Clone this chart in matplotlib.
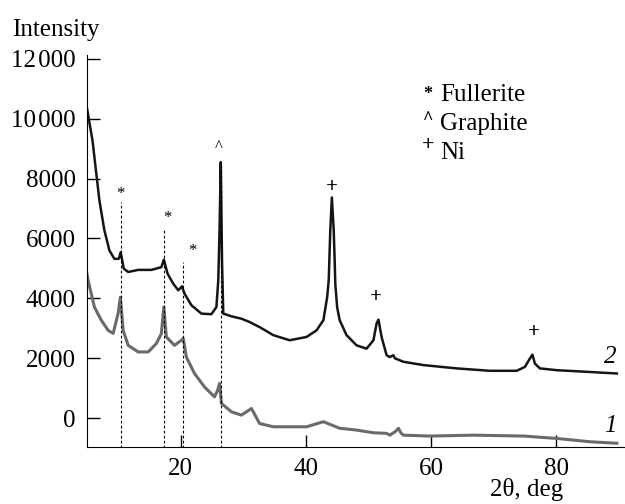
import matplotlib.pyplot as plt


# Ausgabe
OUT_FILE = "out.png"
DPI = 100

# Kurve 2 (schwarz): 2theta / Intensität
x2 = [5.0, 5.9, 7.0, 7.8, 8.6, 9.4, 10.1, 10.4, 10.9, 11.6, 13.2, 15.3, 16.9, 17.3,
      17.9, 18.8, 19.6, 20.2, 20.6, 21.7, 23.3, 24.9, 25.7, 26.0, 26.2, 26.4, 26.6,
      26.8, 28.1, 29.7, 31.0, 32.6, 34.8, 37.4, 40.1, 41.7, 42.8, 43.4, 43.65, 43.75,
      43.9, 44.15, 44.45, 44.6, 44.7, 45.0, 45.4, 46.5, 48.1, 49.7, 50.8, 51.3, 51.6,
      52.1, 52.9, 53.4, 54.0, 54.2, 55.6, 58.8, 64.1, 69.4, 73.7, 75.0, 75.8, 76.2,
      76.6, 77.4, 80.1, 85.4, 89.7]
y2 = [10370, 9270, 7270, 6270, 5600, 5320, 5320, 5540, 4990, 4880, 4950, 4950, 5040, 5290,
      4820, 4490, 4270, 4400, 4160, 3770, 3490, 3470, 3710, 4600, 6270, 8550, 5200,
      3490, 3400, 3320, 3210, 3040, 2770, 2600, 2710, 2930, 3270, 4040, 4600, 5270,
      6270, 7370, 6270, 5270, 4490, 3700, 3270, 2770, 2430, 2320, 2600, 3160, 3290,
      2710, 2100, 2040, 2100, 2000, 1880, 1770, 1660, 1580, 1580, 1710, 1990, 2120,
      1820, 1660, 1600, 1540, 1490]

# Kurve 1 (grau)
x1 = [5.0, 5.2, 6.2, 7.3, 8.4, 9.2, 10.0, 10.35, 10.8, 11.6, 13.2, 14.8, 16.1, 16.9,
      17.3, 17.7, 19.0, 20.1, 20.4, 20.9, 22.2, 23.8, 25.4, 25.9, 26.2, 26.5, 28.1,
      29.7, 31.3, 32.6, 34.8, 37.4, 40.1, 42.8, 45.4, 48.1, 50.8, 52.9, 53.4, 54.3,
      54.8, 55.2, 55.6, 59.8, 66.8, 74.8, 80.1, 85.4, 89.7]
y1 = [4830, 4600, 3710, 3270, 2930, 2830, 3500, 4040, 2930, 2430, 2210, 2210, 2490, 2820,
      3710, 2710, 2430, 2600, 2660, 2040, 1490, 1040, 710, 930, 1160, 490, 210,
      100, 320, -180, -290, -290, -290, -120, -340, -400, -490, -510, -570, -450,
      -340, -500, -570, -600, -570, -600, -680, -790, -840]

# Gestrichelte Linien: Position, Höhe
dash_x = [10.4, 17.3, 20.3, 26.4]
dash_top = [7230, 6270, 5200, 8530]

# Reflex-Markierungen
mark_sym = ["*", "*", "*", "^", "+", "+", "+"]
mark_x = [10.4, 17.8, 21.8, 26.1, 44.2, 51.2, 76.5]
mark_y = [7470, 6670, 5570, 9050, 7730, 4060, 2860]

# Legende
legend_sym = ["*", "^", "+"]
legend_txt = ["Fullerite", "Graphite", "Ni"]

y_ticks = [0, 2000, 4000, 6000, 8000, 10000, 12000]
y_ticklabels = ["0", "2000", "4000", "6000", "8000", "10\u200a000", "12\u200a000"]
x_ticks = [20, 40, 60, 80]

# Symbol-Versatz über der Grundlinie (Glyphen sitzen unterschiedlich hoch)
SYM_OFFSET = {"*": 70, "^": 180, "+": 280}
SYM_SIZE = {"*": 12, "^": 12, "+": 15}


def main():
    plt.rcParams["font.family"] = ["Liberation Serif", "DejaVu Serif"]
    plt.rcParams["font.size"] = 18

    fig = plt.figure(figsize=(6.25, 5.04), dpi=DPI)
    ax = fig.add_axes([0.139, 0.113, 0.861, 0.778])

    # Kurven
    ax.plot(x1, y1, color="#6a6a6a", lw=2.2, solid_joinstyle="round")
    ax.plot(x2, y2, color="#151515", lw=1.8, solid_joinstyle="round")

    # Gestrichelte Linien
    for xv, top in zip(dash_x, dash_top):
        ax.plot([xv, xv], [-1000, top], color="black", lw=0.8, ls=(0, (2.5, 2)))

    # Markierungen
    for s, xv, yv in zip(mark_sym, mark_x, mark_y):
        ax.text(xv, yv, s, ha="center", va="center", fontsize=SYM_SIZE[s],
                fontweight="bold" if s == "+" else "normal")

    # Legende (Text)
    for i, (s, t) in enumerate(zip(legend_sym, legend_txt)):
        yv = 10600 - i * 970
        ax.text(59.5, yv + SYM_OFFSET[s], s, ha="center", va="baseline",
                fontsize=SYM_SIZE[s] + 1, fontweight="bold")
        ax.text(61.4, yv, t, ha="left", va="baseline")

    # Kurvennummern
    ax.text(88.6, 1830, "2", style="italic", ha="center", va="baseline")
    ax.text(88.6, -470, "1", style="italic", ha="center", va="baseline")

    # Achsen
    ax.set_xlim(5, 91)
    ax.set_ylim(-967, 12130)
    ax.set_yticks(y_ticks)
    ax.set_yticklabels(y_ticklabels)
    ax.set_xticks(x_ticks)
    ax.tick_params(direction="in", length=9, width=1, pad=8)
    ax.spines["top"].set_visible(False)
    ax.spines["right"].set_visible(False)

    fig.text(0.02, 0.928, "Intensity", ha="left", va="baseline")
    fig.text(0.784, 0.016, "2θ, deg", ha="left", va="baseline")

    fig.savefig(OUT_FILE, dpi=DPI)
    plt.close(fig)


if __name__ == "__main__":
    main()
